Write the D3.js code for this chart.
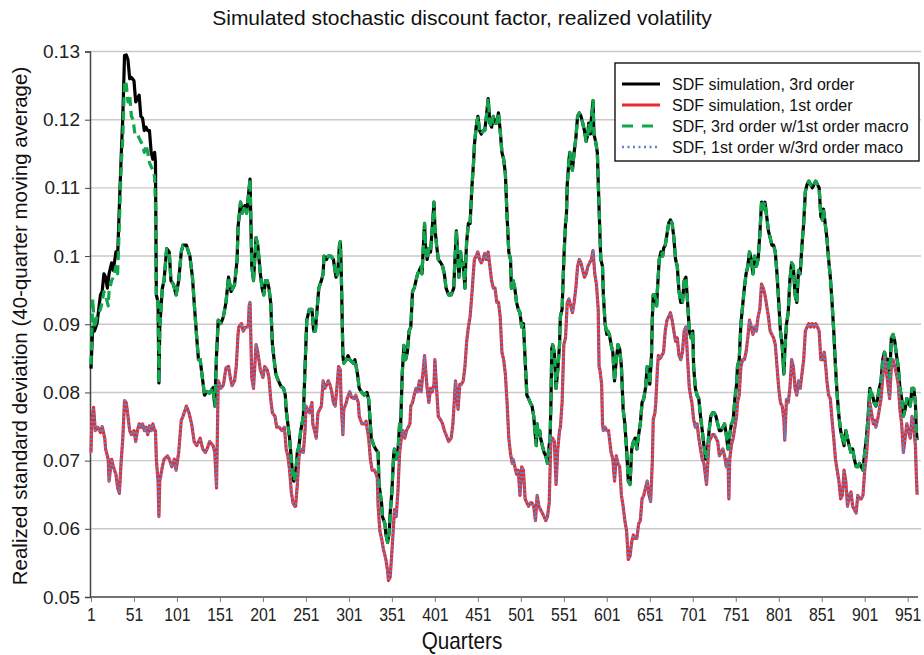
<!DOCTYPE html>
<html>
<head>
<meta charset="utf-8">
<script src="https://cdn.jsdelivr.net/npm/d3@7"></script>
<style>
  body { margin: 0; background: #fff; }
  svg { font-family: "Liberation Sans", Arial, Helvetica, sans-serif; }
</style>
</head>
<body>
<svg id="chart" width="924" height="655"></svg>
<script>
/// data: [quarter, value] ///
const xTicks = [1, 51, 101, 151, 201, 251, 301, 351, 401, 451, 501, 551, 601, 651, 701, 751, 801, 851, 901, 951];
const yTicks = [0.05, 0.06, 0.07, 0.08, 0.09, 0.1, 0.11, 0.12, 0.13];

// SDF simulation, 3rd order
const sdf3 = [
  [1,0.0835],[3,0.0896],[5,0.0890],[8,0.0901],[12,0.0943],[14,0.0948],[16,0.0974],[18,0.0969],[20,0.0953],[22,0.0974],
  [25,0.0990],[27,0.0979],[30,0.1006],[32,0.1000],[34,0.1074],[36,0.1142],[38,0.1205],[40,0.1294],[42,0.1295],[44,0.1288],
  [46,0.1260],[48,0.1262],[51,0.1257],[53,0.1226],[55,0.1231],[57,0.1236],[59,0.1205],[61,0.1202],[63,0.1184],[65,0.1189],
  [67,0.1184],[69,0.1184],[71,0.1152],[73,0.1142],[75,0.1152],[76,0.1137],[77,0.0943],[79,0.0932],[80,0.0814],[81,0.0896],
  [84,0.0953],[86,0.0964],[89,0.1011],[92,0.1006],[94,0.0964],[97,0.0958],[100,0.0943],[103,0.0964],[106,0.1006],[108,0.1016],
  [112,0.1016],[116,0.1000],[119,0.0969],[121,0.0932],[124,0.0880],[126,0.0848],[128,0.0848],[131,0.0817],[133,0.0796],[136,0.0801],
  [139,0.0799],[143,0.0807],[145,0.0780],[147,0.0854],[149,0.0906],[152,0.0901],[155,0.0911],[158,0.0932],[161,0.0969],[164,0.0948],
  [168,0.0958],[171,0.0995],[172,0.1042],[175,0.1079],[177,0.1063],[180,0.1074],[182,0.1063],[185,0.1100],[186,0.1113],[188,0.0986],
  [190,0.0964],[193,0.1027],[195,0.1016],[198,0.0974],[200,0.0953],[202,0.0943],[204,0.0964],[206,0.0964],[208,0.0953],[210,0.0932],
  [212,0.0871],[214,0.0848],[216,0.0827],[219,0.0817],[222,0.0809],[225,0.0806],[227,0.0796],[228,0.0775],[230,0.0754],[232,0.0733],
  [234,0.0702],[236,0.0673],[237,0.0670],[239,0.0680],[241,0.0712],[243,0.0722],[245,0.0744],[248,0.0765],[250,0.0838],[252,0.0906],
  [255,0.0922],[258,0.0922],[260,0.0890],[262,0.0890],[264,0.0922],[266,0.0953],[269,0.0964],[271,0.0974],[272,0.1000],[275,0.0995],
  [277,0.1000],[280,0.1000],[283,0.0995],[286,0.0969],[288,0.0974],[290,0.1016],[291,0.1021],[292,0.0985],[294,0.0854],[295,0.0843],
  [298,0.0848],[300,0.0854],[302,0.0848],[306,0.0843],[308,0.0848],[311,0.0827],[313,0.0806],[316,0.0800],[319,0.0796],[322,0.0800],
  [324,0.0790],[327,0.0733],[330,0.0722],[332,0.0717],[335,0.0712],[336,0.0665],[339,0.0638],[340,0.0618],[343,0.0607],[344,0.0592],
  [346,0.0580],[348,0.0596],[349,0.0623],[351,0.0654],[353,0.0707],[354,0.0717],[356,0.0702],[358,0.0712],[360,0.0754],[361,0.0744],
  [363,0.0827],[365,0.0869],[367,0.0848],[369,0.0859],[371,0.0890],[373,0.0896],[375,0.0948],[377,0.0953],[379,0.0964],[381,0.0974],
  [383,0.0979],[385,0.0985],[386,0.0974],[389,0.1048],[390,0.1016],[392,0.0995],[394,0.1011],[396,0.1006],[398,0.1042],[400,0.1079],
  [401,0.1042],[403,0.1016],[405,0.0995],[408,0.0990],[410,0.0985],[412,0.0974],[414,0.0953],[417,0.0943],[420,0.0943],[423,0.0953],
  [424,0.0985],[426,0.1037],[427,0.1016],[429,0.0969],[431,0.1006],[432,0.0985],[434,0.0990],[436,0.0953],[437,0.0995],[438,0.1021],
  [440,0.1048],[442,0.1048],[444,0.1100],[446,0.1137],[447,0.1163],[449,0.1189],[451,0.1205],[453,0.1184],[455,0.1179],[457,0.1184],
  [459,0.1184],[461,0.1205],[463,0.1231],[465,0.1195],[467,0.1189],[469,0.1205],[471,0.1195],[473,0.1195],[475,0.1210],[477,0.1184],
  [479,0.1152],[481,0.1142],[483,0.1121],[485,0.1058],[487,0.1006],[489,0.0995],[490,0.0953],[492,0.0964],[494,0.0953],[496,0.0932],
  [498,0.0922],[500,0.0917],[502,0.0896],[504,0.0901],[506,0.0848],[508,0.0796],[510,0.0791],[512,0.0785],[514,0.0780],[516,0.0765],
  [517,0.0749],[519,0.0722],[520,0.0754],[521,0.0738],[523,0.0744],[524,0.0733],[526,0.0722],[528,0.0712],[530,0.0707],[532,0.0696],
  [533,0.0712],[535,0.0733],[536,0.0785],[537,0.0864],[538,0.0870],[540,0.0859],[542,0.0806],[544,0.0833],[546,0.0870],[547,0.0911],
  [549,0.0922],[551,0.0995],[553,0.1048],[554,0.1058],[555,0.1105],[557,0.1142],[558,0.1152],[559,0.1137],[561,0.1126],[563,0.1152],
  [565,0.1173],[567,0.1205],[569,0.1210],[571,0.1205],[573,0.1195],[575,0.1184],[577,0.1168],[579,0.1179],[580,0.1195],[582,0.1179],
  [583,0.1200],[585,0.1228],[586,0.1179],[588,0.1168],[590,0.1152],[591,0.1110],[593,0.1032],[594,0.0995],[596,0.0985],[597,0.0943],
  [599,0.0901],[601,0.0885],[602,0.0890],[604,0.0885],[606,0.0870],[608,0.0859],[610,0.0817],[612,0.0848],[614,0.0870],[616,0.0864],
  [618,0.0838],[620,0.0775],[622,0.0754],[624,0.0717],[626,0.0670],[628,0.0665],[630,0.0717],[632,0.0728],[634,0.0733],[636,0.0717],
  [638,0.0738],[640,0.0754],[642,0.0785],[644,0.0791],[646,0.0806],[648,0.0838],[650,0.0827],[651,0.0812],[653,0.0854],[654,0.0911],
  [655,0.0943],[657,0.0943],[659,0.0927],[660,0.0953],[662,0.0995],[664,0.1006],[666,0.1000],[667,0.1011],[669,0.1016],[671,0.1032],
  [673,0.1048],[675,0.1053],[677,0.1048],[679,0.1027],[681,0.0995],[683,0.0985],[685,0.0948],[687,0.0932],[689,0.0932],[691,0.0964],
  [693,0.0969],[695,0.0932],[697,0.0890],[699,0.0880],[701,0.0890],[702,0.0838],[704,0.0806],[706,0.0796],[708,0.0791],[710,0.0765],
  [712,0.0744],[714,0.0722],[716,0.0702],[718,0.0712],[720,0.0744],[722,0.0765],[724,0.0770],[726,0.0770],[728,0.0765],[730,0.0754],
  [732,0.0744],[734,0.0744],[736,0.0749],[738,0.0754],[740,0.0738],[742,0.0717],[744,0.0738],[746,0.0754],[748,0.0759],[750,0.0791],
  [752,0.0812],[753,0.0838],[755,0.0848],[757,0.0901],[759,0.0927],[761,0.0953],[763,0.0974],[765,0.0985],[767,0.1006],[769,0.0995],
  [771,0.0974],[773,0.1000],[775,0.0985],[777,0.0995],[779,0.1032],[781,0.1079],[783,0.1069],[785,0.1079],[787,0.1058],[789,0.1037],
  [791,0.1027],[793,0.1016],[795,0.1016],[797,0.1006],[799,0.0974],[801,0.0932],[803,0.0890],[805,0.0869],[807,0.0827],[808,0.0860],
  [810,0.0900],[812,0.0917],[814,0.0965],[816,0.0990],[818,0.0985],[820,0.0943],[822,0.0932],[824,0.0979],[826,0.0974],[828,0.1016],
  [830,0.1048],[832,0.1095],[834,0.1105],[836,0.1110],[838,0.1105],[840,0.1100],[842,0.1105],[844,0.1110],[846,0.1105],[848,0.1100],
  [850,0.1058],[852,0.1053],[853,0.1069],[855,0.1048],[857,0.1027],[859,0.0995],[861,0.0969],[863,0.0932],[865,0.0890],[867,0.0838],
  [869,0.0796],[871,0.0765],[873,0.0744],[875,0.0733],[877,0.0722],[879,0.0744],[881,0.0733],[883,0.0722],[885,0.0712],[887,0.0717],
  [889,0.0702],[891,0.0691],[893,0.0691],[895,0.0696],[897,0.0691],[899,0.0686],[901,0.0712],[903,0.0733],[905,0.0765],[907,0.0806],
  [908,0.0801],[910,0.0796],[912,0.0785],[914,0.0780],[916,0.0791],[918,0.0806],[920,0.0817],[922,0.0848],[924,0.0859],[926,0.0848],
  [928,0.0848],[930,0.0822],[932,0.0880],[934,0.0885],[936,0.0875],[938,0.0854],[940,0.0838],[942,0.0806],[944,0.0791],[946,0.0765],
  [948,0.0775],[950,0.0791],[952,0.0785],[954,0.0780],[956,0.0806],[958,0.0806],[960,0.0785],[961,0.0744],[962,0.0730]
];

// SDF simulation, 1st order
const sdf1 = [
  [1,0.0712],[2,0.0760],[4,0.0778],[6,0.0744],[9,0.0749],[12,0.0741],[14,0.0750],[17,0.0733],[18,0.0717],[21,0.0702],
  [22,0.0670],[25,0.0702],[27,0.0691],[30,0.0680],[32,0.0660],[34,0.0652],[36,0.0697],[38,0.0733],[40,0.0788],[42,0.0785],
  [44,0.0765],[46,0.0744],[48,0.0738],[51,0.0744],[53,0.0728],[55,0.0744],[57,0.0754],[59,0.0749],[61,0.0754],[63,0.0744],
  [65,0.0749],[67,0.0738],[69,0.0751],[71,0.0744],[73,0.0754],[75,0.0744],[76,0.0744],[77,0.0702],[79,0.0670],[80,0.0618],
  [81,0.0670],[84,0.0691],[86,0.0702],[90,0.0707],[92,0.0702],[95,0.0691],[98,0.0702],[100,0.0686],[103,0.0712],[106,0.0759],
  [108,0.0765],[112,0.0780],[115,0.0770],[118,0.0754],[121,0.0728],[124,0.0722],[128,0.0733],[131,0.0717],[134,0.0712],[136,0.0717],
  [139,0.0728],[143,0.0722],[145,0.0712],[147,0.0660],[149,0.0817],[152,0.0806],[155,0.0811],[158,0.0836],[161,0.0838],[163,0.0822],
  [165,0.0810],[168,0.0817],[170,0.0838],[172,0.0885],[173,0.0896],[176,0.0901],[178,0.0890],[181,0.0896],[184,0.0896],[185,0.0927],
  [186,0.0932],[188,0.0822],[190,0.0806],[193,0.0870],[195,0.0859],[198,0.0833],[201,0.0822],[203,0.0838],[206,0.0833],[208,0.0822],
  [210,0.0791],[212,0.0770],[215,0.0765],[217,0.0749],[220,0.0749],[223,0.0744],[226,0.0749],[228,0.0717],[230,0.0707],[232,0.0686],
  [234,0.0654],[236,0.0638],[238,0.0633],[239,0.0633],[241,0.0665],[243,0.0707],[245,0.0717],[248,0.0712],[250,0.0744],[251,0.0780],
  [253,0.0775],[255,0.0770],[258,0.0785],[259,0.0754],[261,0.0744],[263,0.0733],[265,0.0770],[267,0.0775],[269,0.0780],[271,0.0817],
  [273,0.0806],[275,0.0811],[277,0.0817],[279,0.0811],[281,0.0801],[283,0.0785],[285,0.0780],[287,0.0806],[289,0.0838],[291,0.0833],
  [292,0.0785],[294,0.0738],[295,0.0775],[298,0.0785],[299,0.0791],[302,0.0801],[304,0.0793],[307,0.0791],[309,0.0796],[312,0.0785],
  [313,0.0765],[316,0.0754],[319,0.0754],[321,0.0758],[322,0.0749],[324,0.0733],[326,0.0702],[328,0.0686],[331,0.0686],[334,0.0675],
  [335,0.0633],[337,0.0597],[339,0.0586],[341,0.0571],[344,0.0555],[346,0.0539],[347,0.0524],[349,0.0529],[351,0.0566],[353,0.0607],
  [354,0.0628],[356,0.0618],[358,0.0654],[360,0.0712],[362,0.0733],[364,0.0744],[366,0.0733],[368,0.0744],[370,0.0749],[372,0.0754],
  [373,0.0780],[375,0.0785],[377,0.0796],[379,0.0806],[381,0.0801],[383,0.0817],[385,0.0801],[387,0.0827],[389,0.0854],[390,0.0838],
  [392,0.0806],[394,0.0785],[396,0.0806],[398,0.0801],[400,0.0812],[401,0.0848],[403,0.0806],[405,0.0765],[408,0.0759],[410,0.0754],
  [412,0.0744],[414,0.0738],[417,0.0728],[420,0.0733],[422,0.0754],[424,0.0796],[425,0.0817],[426,0.0806],[428,0.0775],[430,0.0812],
  [432,0.0812],[434,0.0817],[436,0.0838],[438,0.0875],[440,0.0896],[442,0.0911],[444,0.0943],[446,0.0979],[447,0.0995],[449,0.1000],
  [451,0.1006],[453,0.0995],[455,0.0990],[457,0.0995],[459,0.1004],[461,0.0995],[463,0.1006],[465,0.0985],[467,0.0964],[469,0.0953],
  [471,0.0953],[473,0.0932],[475,0.0932],[477,0.0911],[479,0.0859],[481,0.0848],[483,0.0827],[485,0.0785],[487,0.0733],[489,0.0710],
  [491,0.0696],[492,0.0702],[494,0.0691],[496,0.0680],[498,0.0686],[500,0.0649],[502,0.0691],[504,0.0686],[506,0.0644],[508,0.0638],
  [510,0.0633],[512,0.0638],[514,0.0638],[516,0.0633],[518,0.0612],[520,0.0649],[522,0.0633],[524,0.0628],[526,0.0623],[528,0.0618],
  [530,0.0612],[532,0.0618],[534,0.0638],[536,0.0733],[538,0.0733],[540,0.0728],[542,0.0665],[544,0.0717],[546,0.0744],[547,0.0749],
  [549,0.0785],[551,0.0870],[553,0.0880],[555,0.0932],[557,0.0937],[559,0.0927],[561,0.0917],[563,0.0932],[565,0.0953],[567,0.0985],
  [569,0.0995],[571,0.0990],[573,0.0979],[575,0.0969],[577,0.0974],[579,0.0985],[581,0.0990],[583,0.0995],[585,0.1008],[587,0.0974],
  [589,0.0958],[591,0.0922],[592,0.0838],[593,0.0833],[595,0.0812],[596,0.0754],[597,0.0744],[599,0.0749],[601,0.0744],[603,0.0744],
  [604,0.0733],[606,0.0712],[608,0.0702],[610,0.0670],[612,0.0707],[614,0.0696],[616,0.0691],[618,0.0649],[620,0.0633],[622,0.0612],
  [624,0.0597],[626,0.0555],[628,0.0560],[630,0.0581],[632,0.0591],[634,0.0586],[636,0.0586],[638,0.0607],[640,0.0612],[642,0.0644],
  [644,0.0649],[646,0.0660],[648,0.0670],[650,0.0650],[652,0.0640],[654,0.0700],[655,0.0760],[657,0.0770],[658,0.0785],[660,0.0838],
  [661,0.0854],[663,0.0850],[665,0.0854],[667,0.0859],[669,0.0890],[671,0.0906],[673,0.0911],[675,0.0917],[677,0.0906],[679,0.0890],
  [681,0.0875],[683,0.0880],[685,0.0854],[687,0.0848],[689,0.0859],[691,0.0890],[693,0.0896],[695,0.0848],[697,0.0806],[699,0.0791],
  [700,0.0785],[702,0.0760],[704,0.0749],[706,0.0754],[708,0.0733],[710,0.0717],[712,0.0702],[714,0.0696],[716,0.0675],[717,0.0665],
  [719,0.0707],[720,0.0728],[722,0.0733],[724,0.0738],[726,0.0738],[728,0.0733],[730,0.0728],[732,0.0707],[734,0.0712],[736,0.0717],
  [738,0.0707],[740,0.0691],[742,0.0702],[743,0.0644],[744,0.0702],[746,0.0723],[748,0.0733],[750,0.0749],[752,0.0765],[753,0.0785],
  [755,0.0796],[757,0.0838],[759,0.0848],[761,0.0848],[763,0.0859],[765,0.0880],[767,0.0906],[769,0.0896],[771,0.0885],[773,0.0896],
  [775,0.0890],[777,0.0911],[779,0.0922],[781,0.0959],[783,0.0953],[785,0.0943],[787,0.0927],[789,0.0911],[791,0.0890],[793,0.0885],
  [795,0.0880],[797,0.0870],[799,0.0838],[801,0.0806],[803,0.0785],[805,0.0780],[807,0.0760],[808,0.0730],[810,0.0790],[812,0.0785],
  [814,0.0806],[816,0.0848],[818,0.0838],[820,0.0806],[822,0.0796],[824,0.0817],[826,0.0806],[828,0.0827],[830,0.0848],[832,0.0890],
  [834,0.0896],[836,0.0901],[838,0.0896],[840,0.0901],[842,0.0896],[844,0.0901],[846,0.0896],[848,0.0890],[850,0.0848],[852,0.0848],
  [854,0.0859],[856,0.0833],[857,0.0817],[859,0.0796],[861,0.0791],[863,0.0760],[865,0.0733],[867,0.0702],[869,0.0686],[871,0.0670],
  [873,0.0644],[875,0.0649],[877,0.0686],[879,0.0670],[881,0.0633],[883,0.0649],[885,0.0654],[887,0.0633],[889,0.0628],[891,0.0623],
  [893,0.0649],[895,0.0644],[897,0.0644],[899,0.0649],[901,0.0686],[903,0.0707],[905,0.0744],[907,0.0785],[909,0.0770],[911,0.0754],
  [913,0.0759],[914,0.0749],[916,0.0760],[918,0.0775],[920,0.0791],[922,0.0822],[924,0.0854],[926,0.0833],[928,0.0812],[930,0.0791],
  [932,0.0838],[934,0.0848],[936,0.0838],[938,0.0827],[940,0.0812],[942,0.0775],[944,0.0754],[946,0.0712],[948,0.0733],[950,0.0754],
  [952,0.0744],[954,0.0733],[956,0.0765],[958,0.0749],[960,0.0722],[961,0.0680],[962,0.0650]
];

// SDF, 3rd order w/1st order macro: only the first ~77 quarters differ from sdf3
const sdf3w1Early = [
  [1,0.0841],[3,0.0937],[5,0.0894],[8,0.0911],[12,0.0922],[14,0.0932],[16,0.0948],[18,0.0943],[21,0.0927],[22,0.0948],
  [25,0.0964],[27,0.0969],[30,0.0985],[32,0.0974],[34,0.1048],[36,0.1131],[38,0.1173],[40,0.1257],[42,0.1252],[44,0.1226],
  [46,0.1236],[48,0.1205],[50,0.1200],[52,0.1179],[55,0.1179],[57,0.1173],[59,0.1168],[61,0.1163],[63,0.1152],[65,0.1163],
  [67,0.1152],[69,0.1137],[71,0.1131],[73,0.1126],[75,0.1116],[76,0.1074]
];
const sdf3w1 = sdf3w1Early.concat(sdf3.filter(d => d[0] > 76));

// SDF, 1st order w/3rd order macro: lies on top of sdf1
const sdf1w3 = sdf1;

const series = [
  { name: "SDF simulation, 3rd order", data: sdf3, color: "#000000", width: 3.2, dash: null, legendDash: null },
  { name: "SDF simulation, 1st order", data: sdf1, color: "#f0262b", width: 3.2, dash: null, legendDash: null },
  { name: "SDF, 3rd order w/1st order macro", data: sdf3w1, color: "#11a84c", width: 3.2, dash: "9,5", legendDash: "11,9" },
  { name: "SDF, 1st order w/3rd order maco", data: sdf1w3, color: "#5a86c6", width: 2.4, dash: "2,2.2", legendDash: "2,3.5" }
];

/// layout ///
const plot = { left: 90, right: 918, top: 51.5, bottom: 597 };

const svg = d3.select("#chart");

const x = d3.scaleLinear().domain([1, 963]).range([91, plot.right]);
const y = d3.scaleLinear().domain([0.05, 0.13]).range([plot.bottom, plot.top]);

// gridlines
svg.append("g")
  .selectAll("line")
  .data(yTicks.filter(t => t > 0.05))
  .join("line")
    .attr("x1", plot.left)
    .attr("x2", 921)
    .attr("y1", d => y(d))
    .attr("y2", d => y(d))
    .attr("stroke", "#c9c9c9")
    .attr("stroke-width", 1.4);

// y axis
const yAxis = svg.append("g")
  .attr("transform", `translate(${plot.left},0)`)
  .call(d3.axisLeft(y).tickValues(yTicks).tickFormat(d => String(+d.toFixed(2))).tickSize(5).tickPadding(5));
yAxis.select(".domain").attr("stroke", "#444").attr("stroke-width", 1.5);
yAxis.selectAll(".tick line").attr("stroke", "#444");
yAxis.selectAll("text").attr("font-size", 19).attr("fill", "#222")
  .attr("font-family", "'Liberation Sans', Arial, sans-serif");

// x axis - labels look horizontally squeezed in the original
const xAxis = svg.append("g")
  .attr("transform", `translate(0,${plot.bottom})`)
  .call(d3.axisBottom(x).tickValues(xTicks).tickFormat(d3.format("d")).tickSize(5).tickPadding(6).tickSizeOuter(0));
xAxis.select(".domain").attr("stroke", "#444").attr("stroke-width", 1.5)
  .attr("d", `M${plot.left},0H${plot.right}`);
xAxis.selectAll(".tick line").attr("stroke", "#777");
xAxis.selectAll("text").attr("font-size", 18).attr("fill", "#222")
  .attr("font-family", "'Liberation Sans', Arial, sans-serif")
  .attr("transform", "scale(0.88,1)");

// lines
const line = d3.line()
  .x(d => x(d[0]))
  .y(d => y(d[1]));

svg.append("g")
  .selectAll("path")
  .data(series)
  .join("path")
    .attr("d", d => line(d.data))
    .attr("fill", "none")
    .attr("stroke", d => d.color)
    .attr("stroke-width", d => d.width)
    .attr("stroke-dasharray", d => d.dash)
    .attr("stroke-linejoin", "round");

// legend
const legend = svg.append("g").attr("transform", "translate(615,63)");
legend.append("rect")
  .attr("width", 304)
  .attr("height", 98)
  .attr("fill", "#fff")
  .attr("stroke", "#000")
  .attr("stroke-width", 1.3);
const item = legend.selectAll(".item")
  .data(series)
  .join("g")
    .attr("class", "item")
    .attr("transform", (d, i) => `translate(0,${21 + i * 21})`);
item.append("line")
  .attr("x1", 7).attr("x2", 45)
  .attr("stroke", d => d.color)
  .attr("stroke-width", d => d.width)
  .attr("stroke-dasharray", d => d.legendDash);
item.append("text")
  .attr("x", 57)
  .attr("dy", "0.35em")
  .attr("font-size", 16)
  .attr("fill", "#111")
  .text(d => d.name);

// title & axis titles
svg.append("text")
  .attr("x", 462).attr("y", 25)
  .attr("text-anchor", "middle")
  .attr("font-size", 21)
  .attr("fill", "#111")
  .text("Simulated stochastic discount factor, realized volatility");

svg.append("text")
  .attr("transform", "translate(462,649) scale(0.9,1)")
  .attr("text-anchor", "middle")
  .attr("font-size", 23)
  .attr("fill", "#111")
  .text("Quarters");

svg.append("text")
  .attr("transform", "translate(27,326) rotate(-90)")
  .attr("text-anchor", "middle")
  .attr("font-size", 20.5)
  .attr("fill", "#111")
  .text("Realized standard deviation (40-quarter moving average)");
</script>
</body>
</html>
